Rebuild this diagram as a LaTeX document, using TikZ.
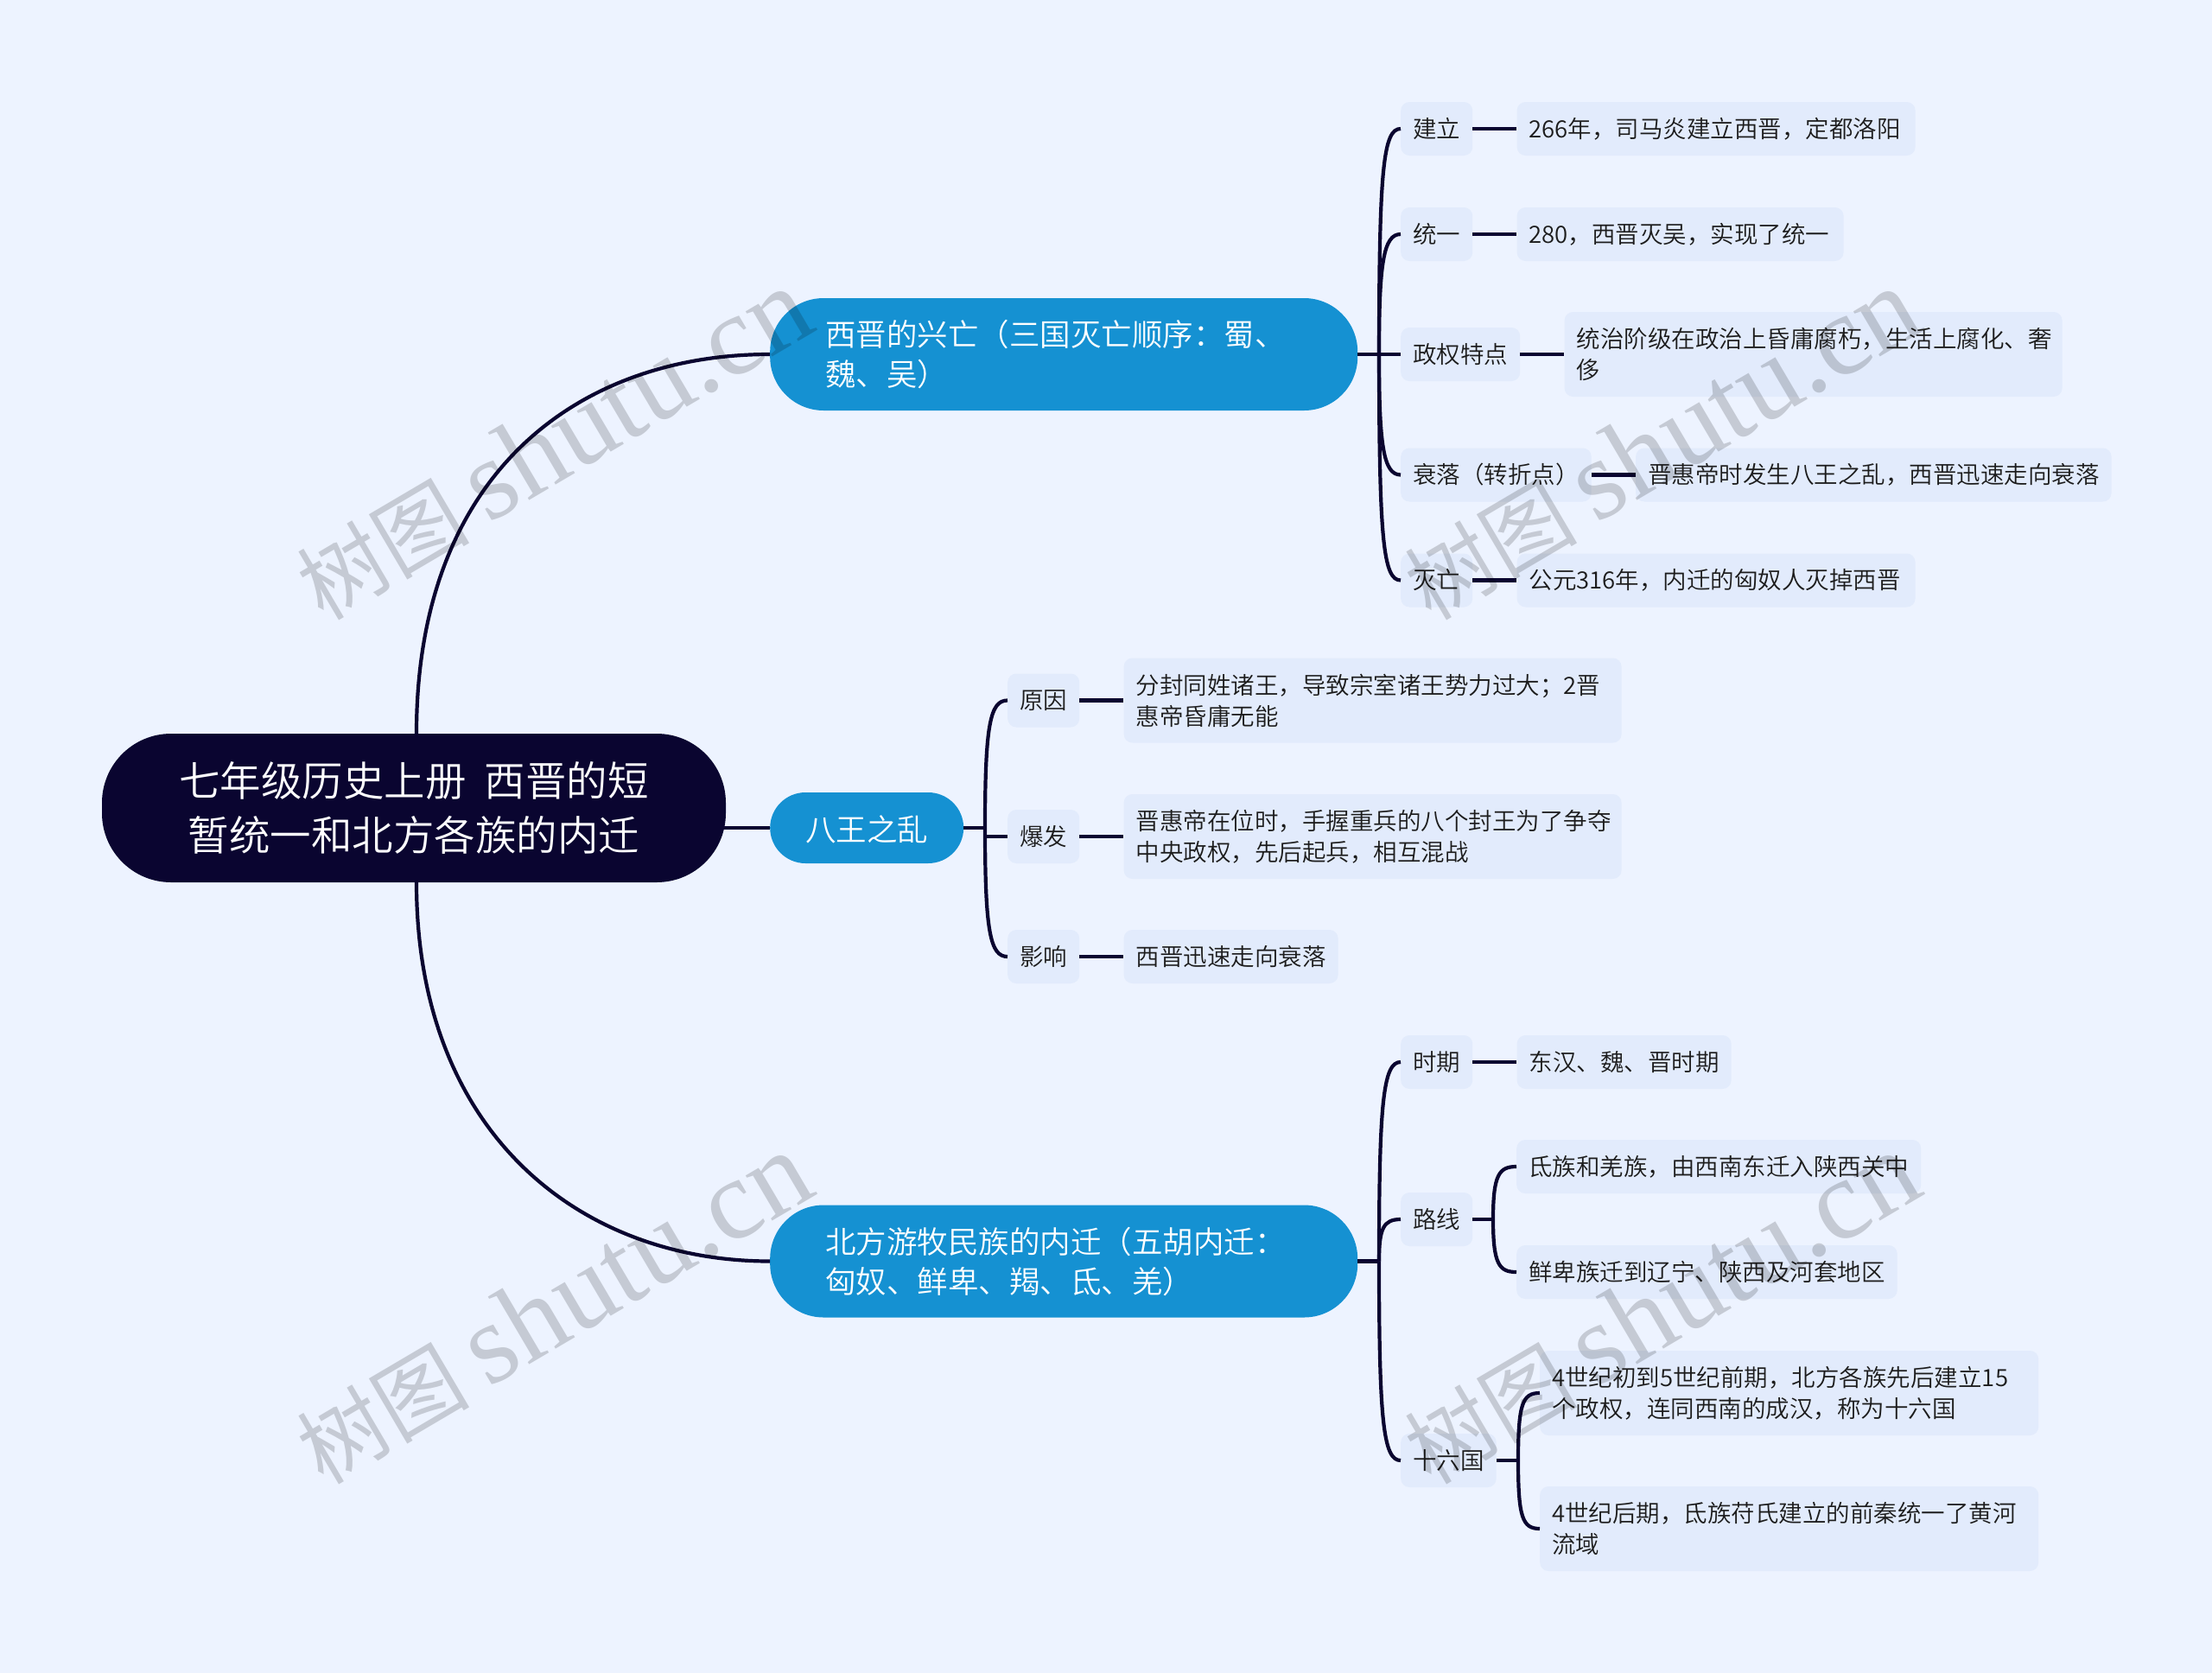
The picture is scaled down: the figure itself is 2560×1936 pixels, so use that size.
\documentclass[tikz,border=0pt]{standalone}
\usepackage{fontspec}
\setmainfont{Noto Sans CJK SC DemiLight}
\newfontfamily\wmcjk{Noto Sans CJK SC}
\newfontfamily\wmlatin{Liberation Serif}
\usetikzlibrary{positioning}

\definecolor{pagebg}{HTML}{EDF3FF}
\definecolor{rootfill}{HTML}{0A0530}
\definecolor{mainfill}{HTML}{1591D2}
\definecolor{boxfill}{HTML}{E2EBFC}
\definecolor{inktext}{HTML}{1C1C1C}

\tikzset{
  rootnode/.style={fill=rootfill,text=white,rounded corners=80pt,minimum width=722pt,minimum height=172pt,
    align=center,font=\fontsize{47.5}{63}\selectfont},
  mainnode/.style={fill=mainfill,text=white,rounded corners=62pt,minimum height=130pt,inner xsep=64pt,
    align=left,anchor=west,font=\fontsize{35.5}{46}\selectfont},
  item/.style={fill=boxfill,text=inktext,rounded corners=10pt,minimum height=62pt,inner xsep=14pt,
    align=left,anchor=west,font=\fontsize{27.5}{36}\selectfont},
  leaf/.style={item},
  leaf two/.style={item,minimum height=98pt,text width=#1},
  link/.style={draw=rootfill,line width=4.2pt},
  fork up/.style 2 args={out=90,in=180,out distance=#1,in distance=#2},
  fork down/.style 2 args={out=-90,in=180,out distance=#1,in distance=#2},
  mark text/.style={text=black,text opacity=.17,rotate=30.5,font=\wmcjk\fontsize{100}{100}\selectfont}
}

\begin{document}
\begin{tikzpicture}[x=1pt,y=-1pt,node distance=51pt]
  \fill[pagebg] (0,0) rectangle (2560,1936);
  \useasboundingbox (0,0) rectangle (2560,1936);

  % Root and main topics
  \node[rootnode] (root) at (479,935) {七年级历史上册~~西晋的短\\暂统一和北方各族的内迁};
  \node[mainnode,text width=552pt] (xingwang) at (891,410) {西晋的兴亡（三国灭亡顺序：蜀、\\魏、吴）};
  \node[mainnode,inner xsep=41pt,minimum height=82pt,rounded corners=41pt,text height=34pt,text depth=3pt] (bawang) at (891,958) {八王之乱};
  \node[mainnode,text width=552pt] (neiqian) at (891,1459.5) {北方游牧民族的内迁（五胡内迁：\\匈奴、鲜卑、羯、氐、羌）};

  % First topic
  \node[item] (jianli) at (1621,149) {建立};
  \node[leaf,text width=433pt,right=of jianli] (jianliT) {266年，司马炎建立西晋，定都洛阳};
  \node[item] (tongyi) at (1621,271) {统一};
  \node[leaf,text width=350pt,right=of tongyi] (tongyiT) {280，西晋灭吴，实现了统一};
  \node[item] (tedian) at (1621,410) {政权特点};
  \node[leaf two=548pt,right=of tedian] (tedianT) {统治阶级在政治上昏庸腐朽，生活上腐化、奢\\侈};
  \node[item] (shuailuo) at (1621,549.5) {衰落（转折点）};
  \node[leaf,right=of shuailuo] (shuailuoT) {晋惠帝时发生八王之乱，西晋迅速走向衰落};
  \node[item] (miewang) at (1621,671.5) {灭亡};
  \node[leaf,text width=433pt,right=of miewang] (miewangT) {公元316年，内迁的匈奴人灭掉西晋};

  % Second topic
  \node[item] (yuanyin) at (1166,810.5) {原因};
  \node[leaf two=548pt,right=of yuanyin] (yuanyinT) {分封同姓诸王，导致宗室诸王势力过大；2晋\\惠帝昏庸无能};
  \node[item] (baofa) at (1166,968) {爆发};
  \node[leaf two=548pt,right=of baofa] (baofaT) {晋惠帝在位时，手握重兵的八个封王为了争夺\\中央政权，先后起兵，相互混战};
  \node[item] (yingxiang) at (1166,1107) {影响};
  \node[leaf,right=of yingxiang] (yingxiangT) {西晋迅速走向衰落};

  % Third topic
  \node[item] (shiqi) at (1621,1229) {时期};
  \node[leaf,right=of shiqi] (shiqiT) {东汉、魏、晋时期};
  \node[item] (luxian) at (1621,1411) {路线};
  \node[leaf] (luxianA) at (1755,1350) {氐族和羌族，由西南东迁入陕西关中};
  \node[leaf] (luxianB) at (1755,1472) {鲜卑族迁到辽宁、陕西及河套地区};
  \node[item] (shiliu) at (1621,1690) {十六国};
  \node[leaf two=549pt] (shiliuA) at (1782,1612) {4世纪初到5世纪前期，北方各族先后建立15\\个政权，连同西南的成汉，称为十六国};
  \node[leaf two=549pt] (shiliuB) at (1782,1769) {4世纪后期，氐族苻氏建立的前秦统一了黄河\\流域};

  % Forks
  \coordinate (xwFork) at (1596,410);
  \coordinate (bwFork) at (1140,958);
  \coordinate (nqFork) at (1596,1459.5);
  \coordinate (lxFork) at (1728,1411);
  \coordinate (slFork) at (1757,1690);

  % Connectors
  \draw[link] ([xshift=3pt]root.north) .. controls +(0,-303) and +(-220,0) .. (xingwang.west);
  \draw[link] ([xshift=3pt]root.south) .. controls +(0,290) and +(-220,0) .. (neiqian.west);
  \draw[link] ([xshift=-5pt]root.east |- bawang.west) -- (bawang.west);

  \path[link]
    (xingwang.east) edge (tedian.west)
    (xwFork) edge[fork up={215pt}{20pt}] (jianli.west)
    (xwFork) edge[fork up={105pt}{20pt}] (tongyi.west)
    (xwFork) edge[fork down={105pt}{20pt}] (shuailuo.west)
    (xwFork) edge[fork down={215pt}{20pt}] (miewang.west)

    (bawang.east) edge (bwFork)
    (bwFork) edge[fork up={120pt}{20pt}] (yuanyin.west)
    (bwFork) edge[fork down={120pt}{20pt}] (yingxiang.west)
    (bwFork |- baofa.west) edge (baofa.west)
    (bwFork) edge (bwFork |- baofa.west)

    (neiqian.east) edge (nqFork)
    (nqFork) edge[fork up={185pt}{20pt}] (shiqi.west)
    (nqFork) edge[fork up={38pt}{20pt}] (luxian.west)
    (nqFork) edge[fork down={185pt}{20pt}] (shiliu.west)

    (luxian.east) edge (lxFork)
    (lxFork) edge[fork up={52pt}{20pt}] (luxianA.west)
    (lxFork) edge[fork down={52pt}{20pt}] (luxianB.west)

    (shiliu.east) edge (slFork)
    (slFork) edge[fork up={66pt}{20pt}] (shiliuA.west)
    (slFork) edge[fork down={66pt}{20pt}] (shiliuB.west)

    (jianli) edge (jianliT)
    (tongyi) edge (tongyiT)
    (tedian) edge (tedianT)
    (shuailuo) edge (shuailuoT)
    (miewang) edge (miewangT)
    (yuanyin) edge (yuanyinT)
    (baofa) edge (baofaT)
    (yingxiang) edge (yingxiangT)
    (shiqi) edge (shiqiT);

  % Watermarks
  \node[mark text] (markA) at (640,514) {树图 {\wmlatin\fontsize{132}{132}\selectfont shutu.cn}};
  \node[mark text] (markB) at (1922,514) {树图 {\wmlatin\fontsize{132}{132}\selectfont shutu.cn}};
  \node[mark text] (markC) at (640,1514) {树图 {\wmlatin\fontsize{132}{132}\selectfont shutu.cn}};
  \node[mark text] (markD) at (1922,1514) {树图 {\wmlatin\fontsize{132}{132}\selectfont shutu.cn}};
\end{tikzpicture}
\end{document}
